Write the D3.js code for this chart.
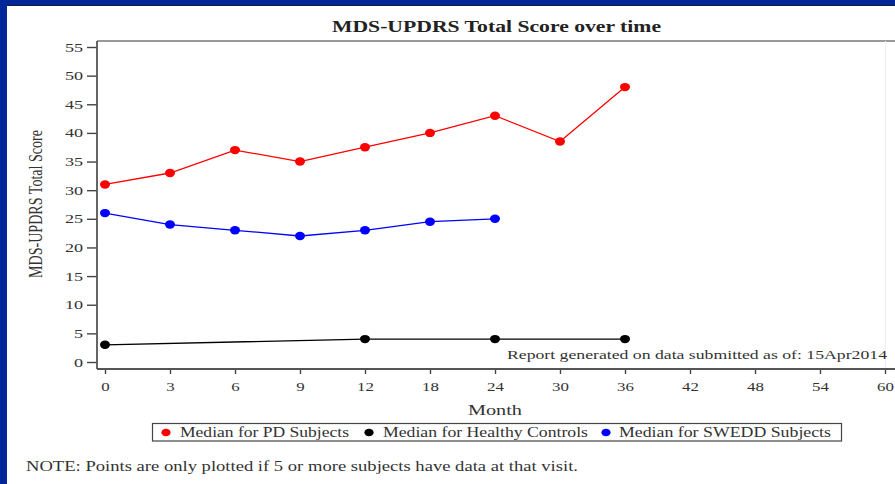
<!DOCTYPE html>
<html><head><meta charset="utf-8">
<script src="https://cdn.jsdelivr.net/npm/d3@7"></script>
<style>
html,body{margin:0;padding:0;background:#00239a;}
svg{display:block;}
</style></head>
<body>
<svg id="c" width="895" height="484"></svg>
<script>
const months = ["0","3","6","9","12","18","24","30","36","42","48","54","60"];
const yTicks = [0,5,10,15,20,25,30,35,40,45,50,55];
const pdMonths = ["0","3","6","9","12","18","24","30","36"];
const pdValues = [31,33,37,35,37.5,40,43,38.5,48];
const hcMonths = ["0","12","24","36"];
const hcValues = [3,4,4,4];
const swMonths = ["0","3","6","9","12","18","24"];
const swValues = [26,24,23,22,23,24.5,25];
const seriesNames = ["Median for PD Subjects","Median for Healthy Controls","Median for SWEDD Subjects"];
const seriesColors = ["#ff0000","#000000","#0000ff"];

(function(){
const FONT = "'Liberation Serif','Times New Roman',serif";
const svg = d3.select("#c");
function stretch(sel, k){
  sel.each(function(){
    const w = this.getComputedTextLength();
    this.setAttribute("textLength", w*k);
    this.setAttribute("lengthAdjust","spacingAndGlyphs");
  });
}
function txt(x, y, s, size, len, anchor, weight){
  const t = svg.append("text").attr("x",x).attr("y",y).attr("font-family",FONT)
    .attr("font-size",size).attr("fill","#333").attr("text-anchor",anchor||"start")
    .attr("font-weight",weight||"normal").text(s);
  if(len) t.attr("textLength",len).attr("lengthAdjust","spacingAndGlyphs");
  return t;
}

svg.append("rect").attr("x",0).attr("y",0).attr("width",895).attr("height",484).attr("fill","#00279a");
svg.append("rect").attr("x",7).attr("y",5).attr("width",888).attr("height",479).attr("fill","#fff");
svg.append("line").attr("x1",7).attr("x2",895).attr("y1",5.5).attr("y2",5.5).attr("stroke","#1a1a40").attr("stroke-width",1);

const x = d3.scalePoint().domain(months).range([105,885]);
const y = d3.scaleLinear().domain([0,55]).range([362,47]);
const pL = 97, pT = 41, pB = 369, pR = 895;

svg.append("line").attr("x1",pL).attr("x2",pR).attr("y1",pT).attr("y2",pT).attr("stroke","#777").attr("stroke-width",1.6);
svg.append("line").attr("x1",885.5).attr("x2",885.5).attr("y1",pT).attr("y2",pB).attr("stroke","#eee").attr("stroke-width",1);

const ya = svg.append("g").attr("transform",`translate(${pL},0)`)
  .call(d3.axisLeft(y).tickValues(yTicks).tickSize(10).tickPadding(4));
ya.select(".domain").remove();
ya.selectAll("line").attr("stroke","#444").attr("stroke-width",1.4);
ya.selectAll("text").attr("font-size",12.5).attr("fill","#333").attr("font-family",FONT);
stretch(ya.selectAll("text"), 1.45);
svg.append("line").attr("x1",pL).attr("x2",pL).attr("y1",pT).attr("y2",pB).attr("stroke","#555").attr("stroke-width",1.8);

const xa = svg.append("g").attr("transform",`translate(0,${pB})`)
  .call(d3.axisBottom(x).tickSize(5).tickPadding(8));
xa.select(".domain").remove();
xa.selectAll("line").attr("stroke","#444").attr("stroke-width",1.4);
xa.selectAll("text").attr("font-size",12.5).attr("fill","#333").attr("font-family",FONT);
stretch(xa.selectAll("text"), 1.35);
svg.append("line").attr("x1",pL).attr("x2",pR).attr("y1",pB).attr("y2",pB).attr("stroke","#555").attr("stroke-width",1.8);

txt(496.5, 32, "MDS-UPDRS Total Score over time", 17, 329, "middle", "bold").attr("fill","#222");
svg.append("text").attr("transform","translate(42,204) scale(1.35,1) rotate(-90)").attr("text-anchor","middle")
  .attr("font-family",FONT).attr("font-size",14).attr("fill","#333")
  .attr("textLength",148).attr("lengthAdjust","spacingAndGlyphs").text("MDS-UPDRS Total Score");
txt(495, 415, "Month", 15, 54, "middle");
txt(887, 359, "Report generated on data submitted as of: 15Apr2014", 13.5, 380, "end");

const series = [
  {m:pdMonths, v:pdValues, c:seriesColors[0]},
  {m:hcMonths, v:hcValues, c:seriesColors[1]},
  {m:swMonths, v:swValues, c:seriesColors[2]}
];
const line = d3.line().x(d=>x(d[0])).y(d=>y(d[1]));
series.forEach(s=>{
  const pts = s.m.map((m,i)=>[m,s.v[i]]);
  svg.append("path").attr("d",line(pts)).attr("fill","none").attr("stroke",s.c).attr("stroke-width",1.3);
  svg.selectAll(null).data(pts).enter().append("ellipse")
    .attr("cx",d=>x(d[0])).attr("cy",d=>y(d[1])).attr("rx",5).attr("ry",4.2).attr("fill",s.c);
});

svg.append("rect").attr("x",152.5).attr("y",423.5).attr("width",689).attr("height",17.5)
  .attr("fill","none").attr("stroke","#444").attr("stroke-width",1.2);
const legX = [166, 369, 606];
const legT = [[180,169],[383,205],[619,212]];
seriesNames.forEach((n,i)=>{
  svg.append("ellipse").attr("cx",legX[i]).attr("cy",432.5).attr("rx",4.6).attr("ry",3.8).attr("fill",seriesColors[i]);
  txt(legT[i][0], 437, n, 14, legT[i][1], "start");
});

txt(26, 471, "NOTE: Points are only plotted if 5 or more subjects have data at that visit.", 14, 552, "start");
})();
</script>
</body></html>
